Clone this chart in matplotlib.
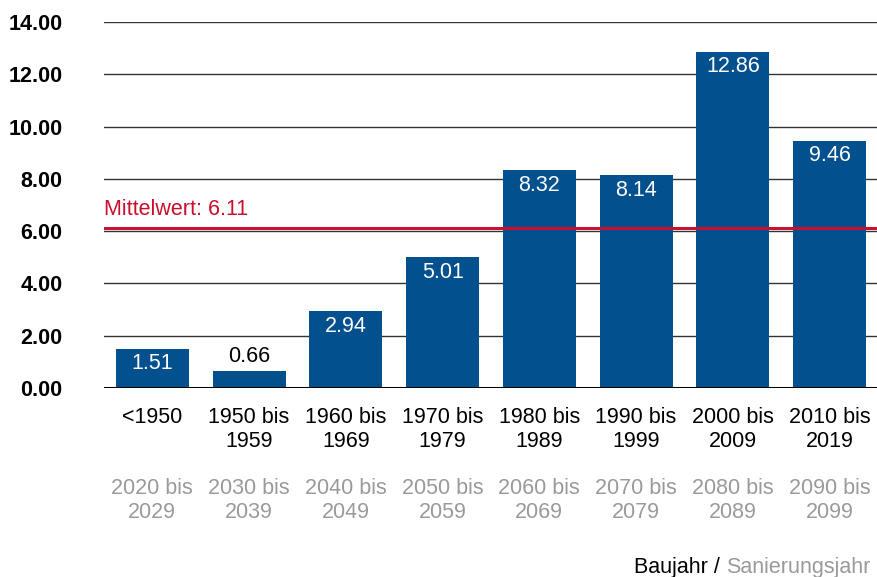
import matplotlib
matplotlib.use("Agg")
import matplotlib.pyplot as plt
from matplotlib.transforms import offset_copy

# Daten
baujahr = ["<1950", "1950 bis\n1959", "1960 bis\n1969", "1970 bis\n1979",
           "1980 bis\n1989", "1990 bis\n1999", "2000 bis\n2009", "2010 bis\n2019"]
sanierungsjahr = ["2020 bis\n2029", "2030 bis\n2039", "2040 bis\n2049", "2050 bis\n2059",
                  "2060 bis\n2069", "2070 bis\n2079", "2080 bis\n2089", "2090 bis\n2099"]
werte = [1.51, 0.66, 2.94, 5.01, 8.32, 8.14, 12.86, 9.46]
mittelwert = 6.11
yticks = [0, 2, 4, 6, 8, 10, 12, 14]

BLUE = "#03508f"
RED = "#c8102e"
GREY = "#9a9a9a"
FS = 15.5

plt.rcParams["font.family"] = ["Liberation Sans", "DejaVu Sans"]

fig = plt.figure(figsize=(8.78, 5.77), dpi=100)
ax = fig.add_axes([104 / 878, 1 - 388 / 577, 1 - 104 / 878, (388 - 22) / 577])

x = list(range(len(werte)))
ax.bar(x, werte, width=0.755, color=BLUE, zorder=2)

ax.set_xlim(-0.5, len(werte) - 0.5)
ax.set_ylim(0, 14)
ax.set_yticks(yticks)
ax.set_yticklabels([f"{v:.2f}" for v in yticks], fontweight="bold", fontsize=15.5)
ax.tick_params(axis="y", length=0, pad=30)
ax.set_xticks([])

for s in ax.spines.values():
    s.set_visible(False)

# Gitterlinien
for v in yticks[1:]:
    ax.axhline(v, color="#333333", linewidth=1.0, zorder=1)
ax.axhline(0, color="black", linewidth=2.2, zorder=3)

# Mittelwert
ax.axhline(mittelwert, color=RED, linewidth=2.2, zorder=4)
ax.text(-0.5, mittelwert + 0.3, f"Mittelwert: {mittelwert:.2f}", color=RED,
        fontsize=FS, ha="left", va="bottom")

# Werte (innen weiss, bei kleinen Balken darueber)
for xi, v in zip(x, werte):
    if v > 1.2:
        tr = offset_copy(ax.transData, fig=fig, y=-15, units="dots")
        ax.text(xi, v, f"{v:.2f}", color="white", fontsize=FS,
                ha="center", va="center", zorder=5, transform=tr)
    else:
        tr = offset_copy(ax.transData, fig=fig, y=14, units="dots")
        ax.text(xi, v, f"{v:.2f}", color="black", fontsize=FS,
                ha="center", va="center", zorder=5, transform=tr)

# Kategorien: Baujahr schwarz, Sanierungsjahr grau
trans = ax.get_xaxis_transform()
ax_h = 388 - 22
for xi, a, b in zip(x, baujahr, sanierungsjahr):
    ax.text(xi, -(407 - 388) / ax_h, a, transform=trans, ha="center", va="top",
            fontsize=FS, color="black", linespacing=1.2)
    ax.text(xi, -(478 - 388) / ax_h, b, transform=trans, ha="center", va="top",
            fontsize=FS, color=GREY, linespacing=1.2)

t1 = fig.text(870 / 878, 1 - 567 / 577, "Sanierungsjahr", color=GREY,
              fontsize=FS, ha="right", va="center")
fig.canvas.draw()
bb = t1.get_window_extent()
fig.text(bb.x0 / fig.bbox.width, 1 - 567 / 577, "Baujahr / ", color="black",
         fontsize=FS, ha="right", va="center")

fig.savefig("out.png", dpi=100)
